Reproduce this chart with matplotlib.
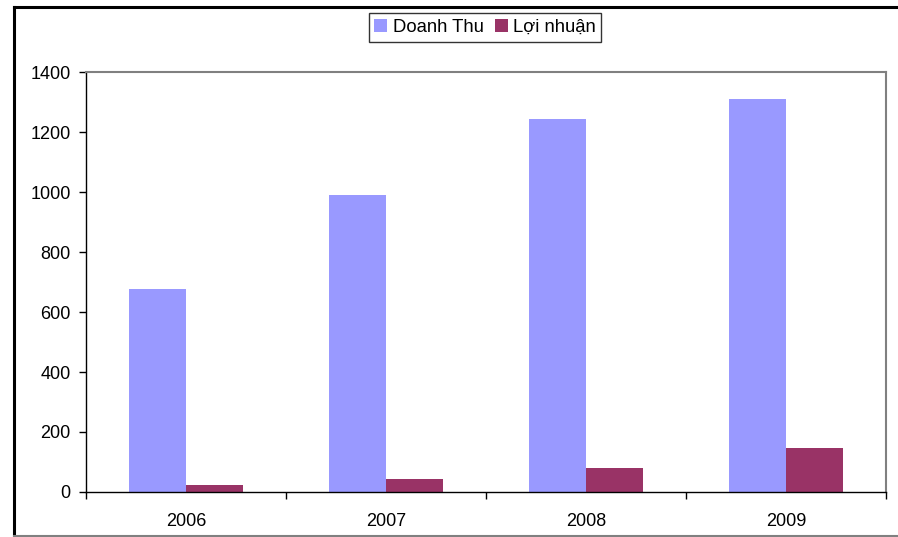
import matplotlib.pyplot as plt
import numpy as np
from matplotlib.lines import Line2D

years = ['2006', '2007', '2008', '2009']
doanh_thu = [677, 990, 1243, 1310]
loi_nhuan = [23, 43, 80, 147]

plt.rcParams['font.family'] = ['Liberation Sans', 'DejaVu Sans']

W, H = 898, 537
fig = plt.figure(figsize=(W / 100, H / 100), dpi=100)
ax = fig.add_axes([86 / W, 1 - 492 / H, 800 / W, 420 / H])

x = np.arange(len(years))
w = 0.285
ax.bar(x - w / 2, doanh_thu, w, color='#9999ff', label='Doanh Thu')
ax.bar(x + w / 2, loi_nhuan, w, color='#993366', label='Lợi nhuận')

ax.set_xlim(-0.5, len(years) - 0.5)
ax.set_ylim(0, 1400)
ax.set_yticks(range(0, 1401, 200))
ax.set_xticks(x)
ax.set_xticklabels(years)
ax.set_xticks(np.arange(-0.5, len(years)), minor=True)
ax.tick_params(axis='x', which='major', length=0, pad=15, labelsize=13)
ax.tick_params(axis='x', which='minor', length=5, direction='out', width=1)
ax.tick_params(axis='y', length=5, direction='out', width=1, labelsize=13, pad=6)

for side in ['top', 'right']:
    ax.spines[side].set_color('#808080')
    ax.spines[side].set_linewidth(1.5)
for side in ['left', 'bottom']:
    ax.spines[side].set_color('black')
    ax.spines[side].set_linewidth(1)

leg = fig.legend(loc='center', bbox_to_anchor=(485 / W, 1 - 27.5 / H), ncol=2,
                 fontsize=13.3, frameon=True, fancybox=False, handlelength=0.7,
                 handleheight=0.7, handletextpad=0.3, columnspacing=0.6,
                 borderpad=0.3)
leg.get_frame().set_edgecolor('black')
leg.get_frame().set_linewidth(1)

# outer chart frame
fig.add_artist(Line2D([13.5 / W, 1], [1 - 7 / H, 1 - 7 / H], color='black', lw=2.2,
                      transform=fig.transFigure))
fig.add_artist(Line2D([13.5 / W, 13.5 / W], [1 - 7 / H, 1 - 535.5 / H], color='black',
                      lw=2.2, transform=fig.transFigure))
fig.add_artist(Line2D([13.5 / W, 1], [1 - 535.5 / H, 1 - 535.5 / H], color='#808080',
                      lw=1.5, transform=fig.transFigure))

fig.savefig('out.png', dpi=100)
